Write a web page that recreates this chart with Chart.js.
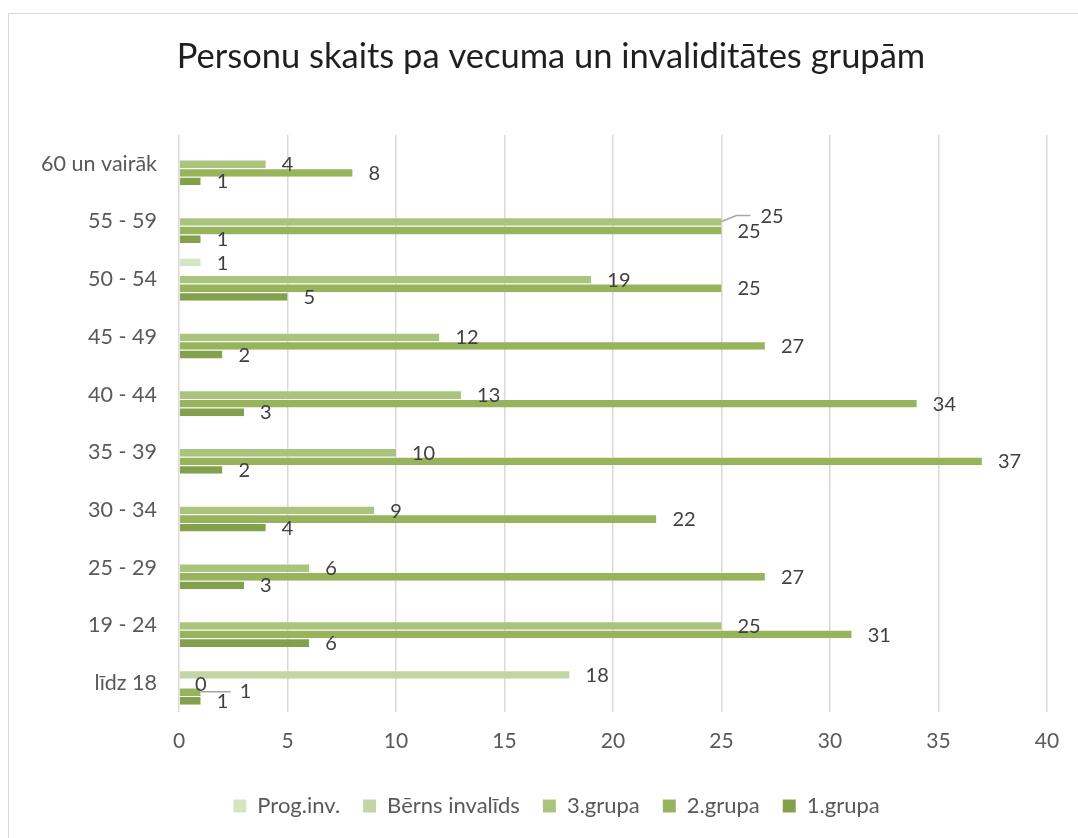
<!DOCTYPE html>
<html lang="lv">
<head>
    <meta charset="UTF-8">
    <title>Personu skaits pa vecuma un invaliditātes grupām</title>
    <script src="https://cdn.jsdelivr.net/npm/chart.js"></script>
    <style>
        html, body {
            margin: 0;
            padding: 0;
            background: #fff;
            overflow: hidden;
        }
        /* rāmis ap diagrammu, labā un apakšējā mala ir ārpus loga */
        #frame {
            position: absolute;
            left: 8px;
            top: 13px;
            width: 1100px;
            height: 900px;
            border: 1.5px solid #d9d9d9;
        }
        #wrap {
            position: absolute;
            left: 0;
            top: 0;
            width: 1078px;
            height: 838px;
        }
    </style>
</head>
<body>
    <div id="frame"></div>
    <div id="wrap">
        <canvas id="chart" width="1078" height="838"></canvas>
    </div>

    <script>
        // dati no augšas uz leju, kā diagrammā
        const categories = ['60 un vairāk', '55 - 59', '50 - 54', '45 - 49', '40 - 44',
                            '35 - 39', '30 - 34', '25 - 29', '19 - 24', 'līdz 18'];
        const seriesNames = ['Prog.inv.', 'Bērns invalīds', '3.grupa', '2.grupa', '1.grupa'];
        const progInv       = [null, null, 1, null, null, null, null, null, null, null];
        const bernsInvalids = [null, null, null, null, null, null, null, null, null, 18];
        const grupa3        = [4, 25, 19, 12, 13, 10, 9, 6, 25, 0];
        const grupa2        = [8, 25, 25, 27, 34, 37, 22, 27, 31, 1];
        const grupa1        = [1, 1, 5, 2, 3, 2, 4, 3, 6, 1];
        const xMin = 0, xMax = 40, xStep = 5;

        const colors = ['#d7e4c4', '#c3d5a5', '#aac47e', '#97b35b', '#83a04d'];
        const FONT = 'Lato, "Open Sans", sans-serif';

        // etiķetes, kas Excel pārvietotas ar līniju
        const movedLabels = {
            '3.grupa|55 - 59': { dx: 39, dy: -5, line: [[0, 0], [15, -6], [29, -6]] },
            '2.grupa|līdz 18': { dx: 39, dy: 0, line: [[0, 0], [30, 0]] }
        };

        const valueLabels = {
            id: 'valueLabels',
            afterDatasetsDraw(chart) {
                const ctx = chart.ctx;
                ctx.save();
                ctx.font = '20px ' + FONT;
                ctx.fillStyle = '#404040';
                ctx.textAlign = 'left';
                ctx.textBaseline = 'middle';
                chart.data.datasets.forEach((ds, di) => {
                    const meta = chart.getDatasetMeta(di);
                    meta.data.forEach((bar, i) => {
                        const v = ds.data[i];
                        if (v === null || v === undefined) return;
                        const m = movedLabels[ds.label + '|' + categories[i]];
                        let x = bar.x + 16, y = bar.y + 1;
                        if (m) {
                            ctx.strokeStyle = '#a6a6a6';
                            ctx.lineWidth = 1.5;
                            ctx.beginPath();
                            m.line.forEach((p, k) => {
                                if (k === 0) ctx.moveTo(bar.x + p[0], bar.y + p[1]);
                                else ctx.lineTo(bar.x + p[0], bar.y + p[1]);
                            });
                            ctx.stroke();
                            x = bar.x + m.dx;
                            y = bar.y + m.dy;
                        }
                        ctx.fillText(String(v), x, y);
                    });
                });
                ctx.restore();
            }
        };

        // virsraksts un leģenda Excel ir centrēti pa visu rāmi, ne tikai pa zīmēšanas laukumu
        const centerBoxes = {
            id: 'centerBoxes',
            afterLayout(chart) {
                if (chart.titleBlock) chart.titleBlock.left = 55;
                if (chart.legend) chart.legend.left = 66;
            }
        };

        const allSeries = [progInv, bernsInvalids, grupa3, grupa2, grupa1];

        const chart = new Chart(document.getElementById('chart').getContext('2d'), {
            type: 'bar',
            data: {
                labels: categories,
                datasets: seriesNames.map((name, k) => ({
                    label: name,
                    data: allSeries[k],
                    backgroundColor: colors[k],
                    // gaiša svītriņa starp blakus stabiņiem
                    borderColor: 'rgba(255,255,255,0.28)',
                    borderWidth: { top: 1, right: 0, bottom: 0, left: 0 },
                    borderSkipped: false,
                    categoryPercentage: 0.745,
                    barPercentage: 1.0
                }))
            },
            options: {
                indexAxis: 'y',
                responsive: false,
                animation: false,
                layout: {
                    padding: { top: 0, left: 0, right: 31, bottom: 11 }
                },
                plugins: {
                    title: {
                        display: true,
                        text: 'Personu skaits pa vecuma un invaliditātes grupām',
                        color: '#1f1f1f',
                        font: { family: FONT, size: 34.5, weight: 'normal' },
                        padding: { top: 36.3, bottom: 57.3 }
                    },
                    legend: {
                        position: 'bottom',
                        labels: {
                            color: '#595959',
                            font: { family: FONT, size: 22 },
                            boxWidth: 13,
                            boxHeight: 13,
                            padding: 23
                        }
                    },
                    tooltip: { enabled: false }
                },
                scales: {
                    x: {
                        min: xMin,
                        max: xMax,
                        ticks: {
                            stepSize: xStep,
                            color: '#595959',
                            font: { family: FONT, size: 21 },
                            padding: 17
                        },
                        grid: {
                            color: '#d9d9d9',
                            lineWidth: 1.5,
                            drawTicks: false
                        },
                        border: { display: false },
                        afterFit(scale) { scale.height = 60; }
                    },
                    y: {
                        ticks: {
                            color: '#595959',
                            font: { family: FONT, size: 21.5 },
                            padding: 22
                        },
                        grid: { display: false, drawTicks: false },
                        border: { display: false },
                        afterFit(scale) { scale.width = 179; }
                    }
                }
            },
            plugins: [valueLabels, centerBoxes]
        });
    </script>
</body>
</html>
